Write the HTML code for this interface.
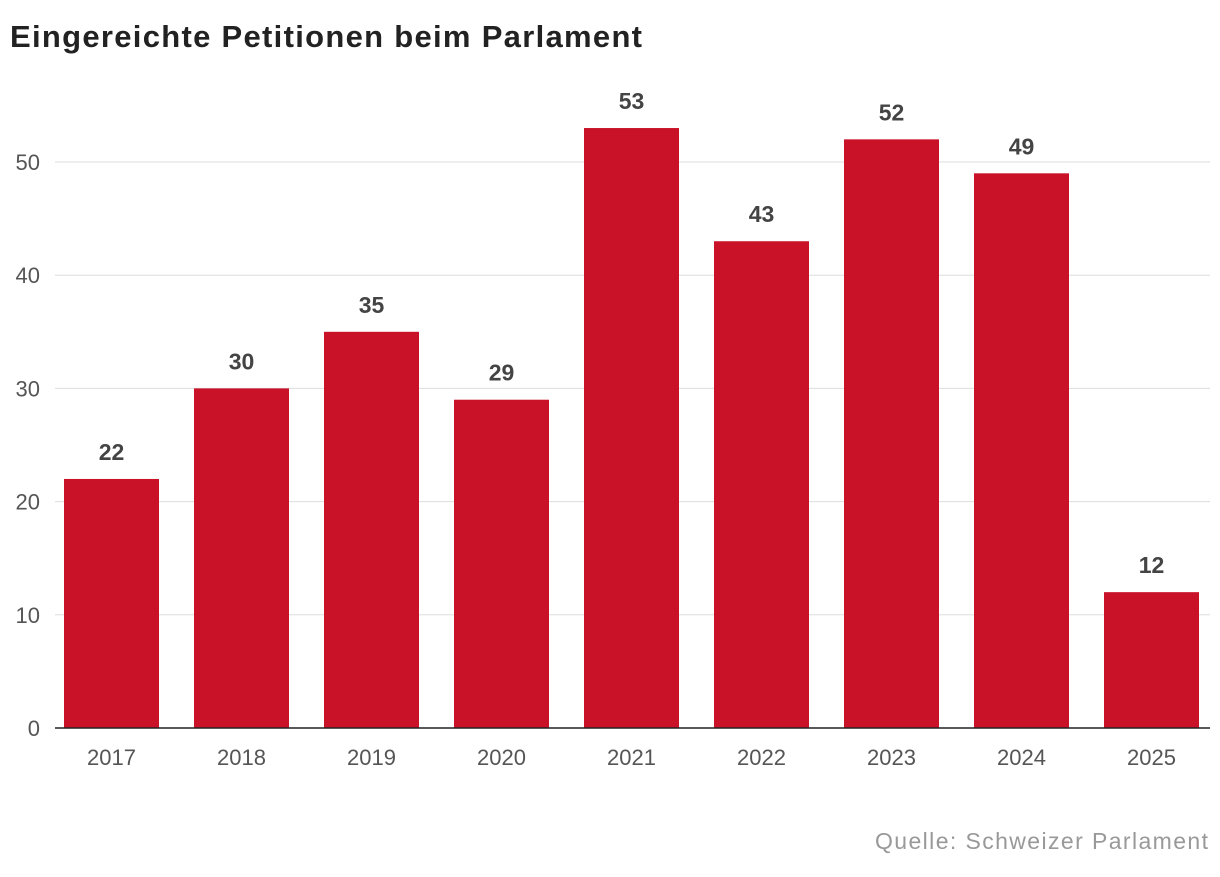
<!DOCTYPE html>
<html><head><meta charset="utf-8">
<style>
body{margin:0;background:#fff;width:1220px;height:872px;overflow:hidden;font-family:"Liberation Sans",sans-serif;}
svg text{font-family:"Liberation Sans",sans-serif;}
</style></head>
<body>
<svg id="chart" width="1220" height="872">
<text x="10" y="47" font-size="31" font-weight="bold" fill="#222" textLength="632" lengthAdjust="spacing">Eingereichte Petitionen beim Parlament</text>
<g id="grid"></g>
<g id="bars"></g>
<text x="875" y="849" font-size="23" fill="#999" textLength="333" lengthAdjust="spacing">Quelle: Schweizer Parlament</text>
</svg>
<script>
const categories=["2017","2018","2019","2020","2021","2022","2023","2024","2025"];
const values=[22,30,35,29,53,43,52,49,12];
const yTicks=[0,10,20,30,40,50];
const NS="http://www.w3.org/2000/svg";
const y0=728,pxPer=11.32;
function y(v){return y0-v*pxPer;}
const bandStart=46.5,band=130,barW=95;
function x(i){return bandStart+i*band+(band-barW)/2;}
const grid=document.getElementById('grid'),bars=document.getElementById('bars');
function mk(t,a,p){const e=document.createElementNS(NS,t);for(const k in a)e.setAttribute(k,a[k]);p.appendChild(e);return e;}
yTicks.forEach(t=>{
  if(t>0){const l=mk('line',{x1:55,x2:1210,y1:y(t),y2:y(t),stroke:'#ddd','stroke-width':1},grid);
  
  }
  const tx=mk('text',{x:40,y:y(t)+8,'text-anchor':'end','font-size':22,fill:'#555'},grid);
  tx.textContent=t;
  
  
});
values.forEach((v,i)=>{
  const r=mk('rect',{x:x(i),y:y(v),width:barW,height:v*pxPer,fill:'#c91127'},bars);
  
  
  const lb=mk('text',{x:x(i)+barW/2,y:y(v)-19,'text-anchor':'middle','font-size':23,'font-weight':'bold',fill:'#444'},bars);
  lb.textContent=v;
  
  
  const cl=mk('text',{x:x(i)+barW/2,y:765,'text-anchor':'middle','font-size':22,fill:'#555'},bars);
  cl.textContent=categories[i];
  
  
});
const ax=mk('line',{x1:55,x2:1210,y1:y0,y2:y0,stroke:'#222','stroke-width':1.5},bars);


</script>
</body></html>
